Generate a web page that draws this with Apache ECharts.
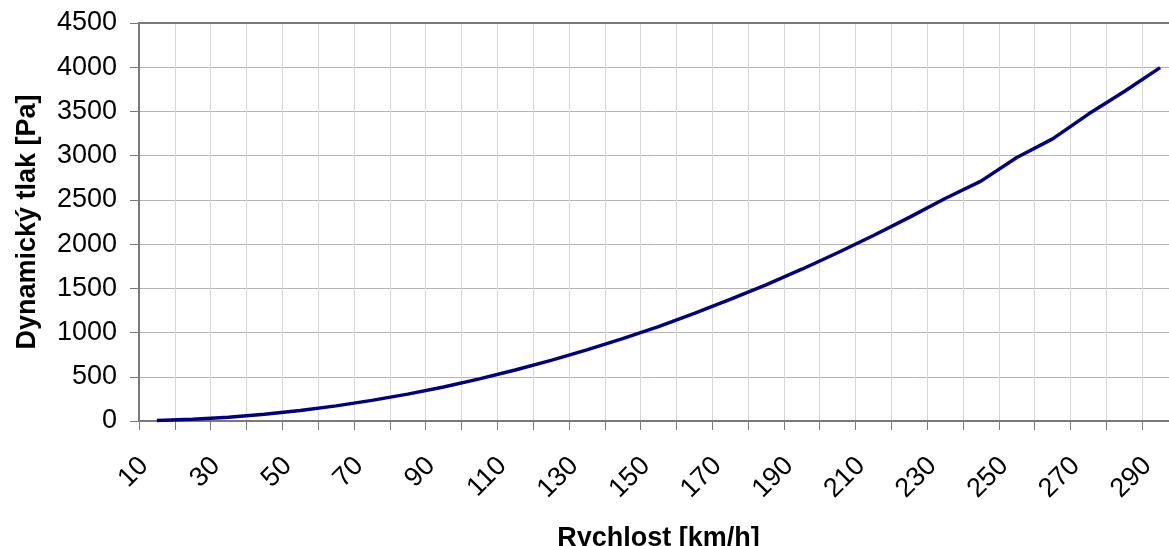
<!DOCTYPE html>
<html>
<head>
<meta charset="utf-8">
<script src="https://cdn.jsdelivr.net/npm/echarts@6/dist/echarts.min.js"></script>
<style>
html,body{margin:0;padding:0;background:#fff;}
#chart{width:1169px;height:546px;}
</style>
</head>
<body>
<div id="chart"></div>
<script>
var categories = ['10','20','30','40','50','60','70','80','90','100','110','120','130','140','150','160','170','180','190','200','210','220','230','240','250','260','270','280','290'];
var pressure = [5,19,43,76,119,171,233,304,385,476,576,685,804,932,1068,1217,1374,1540,1716,1902,2097,2302,2516,2712,2980,3190,3470,3725,3995];
var yTicks = {min:0, max:4500, interval:500};
var xTitle = 'Rychlost [km/h]';
var yTitle = 'Dynamický tlak [Pa]';

var font = 'Liberation Sans, Arial, sans-serif';
var chart = echarts.init(document.getElementById('chart'), null, {renderer:'canvas'});
chart.setOption({
  animation:false,
  backgroundColor:'#ffffff',
  grid:{left:139, top:23, right:-9, bottom:125, containLabel:false, outerBoundsMode:'none'},
  xAxis:[{
    type:'category', data:categories, boundaryGap:true,
    name:xTitle, nameLocation:'middle', nameGap:104,
    nameTextStyle:{fontFamily:font, fontSize:27, fontWeight:'bold', color:'#000'},
    axisLine:{show:true, lineStyle:{color:'#7a7a7a', width:2}},
    axisTick:{show:true, interval:0, length:9, lineStyle:{color:'#7a7a7a', width:1}},
    axisLabel:{interval:1, rotate:45, fontFamily:font, fontSize:27, color:'#000', margin:28, padding:[0,18,0,0]},
    splitLine:{show:true, interval:0, lineStyle:{color:'#d6d6d6', width:1}}
  },{
    type:'category', data:categories, position:'top', boundaryGap:true,
    axisLine:{show:true, lineStyle:{color:'#7a7a7a', width:2}},
    axisTick:{show:false}, axisLabel:{show:false}, splitLine:{show:false}
  }],
  yAxis:{
    type:'value', min:yTicks.min, max:yTicks.max, interval:yTicks.interval,
    name:yTitle, nameLocation:'middle', nameGap:98,
    nameTextStyle:{fontFamily:font, fontSize:27, fontWeight:'bold', color:'#000'},
    axisLine:{show:true, lineStyle:{color:'#7a7a7a', width:2}},
    axisTick:{show:true, length:9, lineStyle:{color:'#7a7a7a', width:1}},
    axisLabel:{fontFamily:font, fontSize:27, color:'#000', margin:22, formatter:function(v){return String(v);}},
    splitLine:{show:true, lineStyle:{color:'#b4b4b4', width:1}}
  },
  series:[{
    type:'line', data:pressure, xAxisIndex:0, symbol:'none', smooth:false,
    lineStyle:{color:'#000080', width:3.5}
  }]
});
</script>
</body>
</html>
